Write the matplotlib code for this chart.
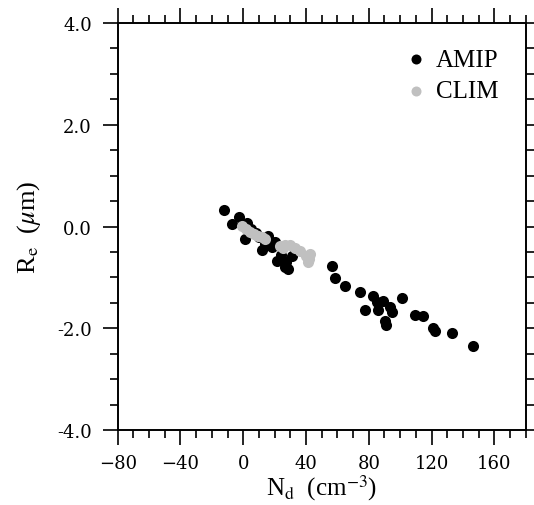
import matplotlib
matplotlib.use('Agg')
import matplotlib.pyplot as plt
from matplotlib.ticker import MultipleLocator, FormatStrFormatter

# AMIP ensemble (black)
amip_nd = [-12.2, -7.3, -2.5, 2.6, 1.1, 5.0, 8.0, 10.0, 16.0, 11.8, 14.0, 18.1,
           20.0, 21.3, 24.0, 26.6, 28.7, 30.9, 27.0, 56.4, 58.5, 64.9, 74.4,
           82.5, 85.1, 89.3, 101.0, 77.6, 86.1, 93.6, 94.6, 90.4, 90.8, 109.5,
           114.8, 121.1, 122.2, 132.9, 146.6]
amip_re = [0.33, 0.05, 0.18, 0.07, -0.24, -0.05, -0.12, -0.20, -0.19, -0.47,
           -0.35, -0.41, -0.30, -0.67, -0.55, -0.80, -0.83, -0.57, -0.70, -0.78,
           -1.02, -1.16, -1.28, -1.36, -1.49, -1.47, -1.41, -1.64, -1.65, -1.59,
           -1.68, -1.85, -1.93, -1.74, -1.76, -2.00, -2.06, -2.10, -2.35]

# CLIM ensemble (grey)
clim_nd = [-0.6, 2.0, 4.5, 7.0, 9.6, 12.2, 14.1, 23.7, 25.5, 26.9, 30.1, 33.3,
           36.4, 40.3, 42.2, 42.8, 41.0]
clim_re = [0.01, -0.05, -0.11, -0.15, -0.19, -0.21, -0.24, -0.38, -0.42, -0.36,
           -0.36, -0.42, -0.48, -0.58, -0.64, -0.54, -0.70]

plt.rcParams['font.family'] = 'Liberation Serif'
plt.rcParams['mathtext.fontset'] = 'stix'

fig = plt.figure(figsize=(5.34, 5.06), dpi=100)
ax = fig.add_axes([0.2204, 0.1482, 0.7640, 0.8043])

ax.scatter(amip_nd, amip_re, s=64, c='black', linewidths=0, label='AMIP', zorder=2)
ax.scatter(clim_nd, clim_re, s=64, c='#c0c0c0', linewidths=0, label='CLIM', zorder=3)

ax.set_xlim(-80, 180)
ax.set_ylim(-4, 4)
ax.xaxis.set_major_locator(MultipleLocator(40))
ax.xaxis.set_minor_locator(MultipleLocator(10))
ax.yaxis.set_major_locator(MultipleLocator(2))
ax.yaxis.set_minor_locator(MultipleLocator(0.5))
ax.yaxis.set_major_formatter(FormatStrFormatter('%.1f'))

for s in ax.spines.values():
  s.set_linewidth(1.4)
ax.tick_params(which='both', direction='out', top=True, right=True, width=1.2)
ax.tick_params(which='major', length=10.5)
ax.tick_params(which='minor', length=5.5)
ax.tick_params(axis='x', which='major', pad=7)
ax.tick_params(axis='y', which='major', pad=8)
for lab in ax.get_xticklabels() + ax.get_yticklabels():
  lab.set_family('DejaVu Serif')
  lab.set_fontsize(13)

ax.set_xlabel(r'N$_\mathrm{d}$  (cm$^{-3}$)', fontsize=18, labelpad=0)
ax.set_ylabel(r'R$_\mathrm{e}$  ($\mu$m)', fontsize=19, labelpad=10)

ax.legend(loc='upper left', bbox_to_anchor=(0.675, 0.962), frameon=False,
          fontsize=18, handletextpad=0.3, labelspacing=0.35, borderaxespad=0,
          handlelength=1.0, markerscale=0.9)

fig.savefig('out.png', dpi=100)
